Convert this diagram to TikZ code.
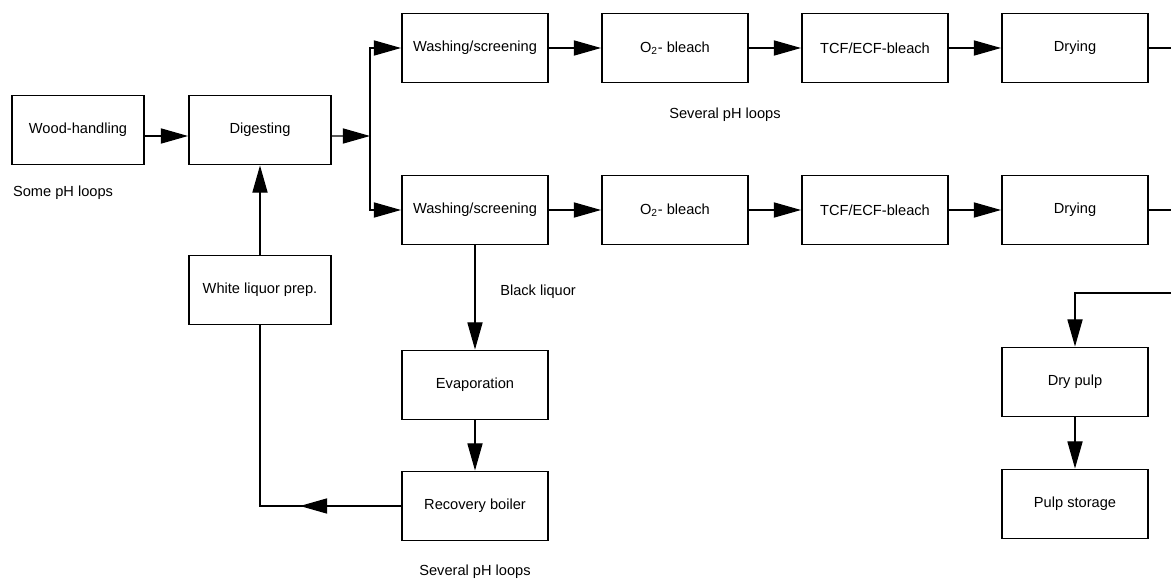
\documentclass[tikz,border=0pt]{standalone}
\usepackage{fontspec}
\setmainfont{Liberation Sans}
\usetikzlibrary{arrows.meta,calc}

\begin{document}
\begin{tikzpicture}[->,>={Triangle[length=0.68cm,width=0.38cm]},line width=0.8pt,
  node distance=5cm,font=\fontsize{10.4}{12}\selectfont]
  \tikzstyle{block}=[draw,line width=1.4pt,minimum width=3.65cm,minimum height=1.725cm]
  \useasboundingbox (0,0) rectangle (29.275,-14.5);

  \node[block,minimum width=3.55cm] (Dig)   at (6.5,-3.25)                     {Digesting};
  \node[block,minimum width=3.3cm]  (Wood)  [left of=Dig,node distance=4.55cm]  {Wood-handling};
  \node[block,minimum width=3.55cm] (WL)    [below of=Dig,node distance=4cm]    {White liquor prep.};

  \node[block] (Wash1) at (11.875,-1.2)                             {Washing/screening};
  \node[block] (Oxy1)  [right of=Wash1]                              {O\textsubscript{2}- bleach};
  \node[block] (Tcf1)  [right of=Oxy1]                               {TCF/ECF-bleach};
  \node[block] (Dry1)  [right of=Tcf1]                               {Drying};

  \node[block] (Wash2) [below of=Wash1,node distance=4.05cm]         {Washing/screening};
  \node[block] (Oxy2)  [right of=Wash2]                              {O\textsubscript{2}- bleach};
  \node[block] (Tcf2)  [right of=Oxy2]                               {TCF/ECF-bleach};
  \node[block] (Dry2)  [right of=Tcf2]                               {Drying};

  \node[block] (Evap)  [below of=Wash2,node distance=4.375cm]        {Evaporation};
  \node[block] (Boil)  [below of=Evap,node distance=3.025cm]         {Recovery boiler};
  \node[block] (DryP)  [below of=Dry2,node distance=4.3cm]           {Dry pulp};
  \node[block] (Store) [below of=DryP,node distance=3.05cm]          {Pulp storage};

  \node (some)  at (1.575,-4.825)              {Some pH loops};
  \node (sev1)  at (18.125,-2.875)             {Several pH loops};
  \node (black) [anchor=west] at (12.375,-7.3) {Black liquor};
  \node (sev2)  at (11.875,-14.3)              {Several pH loops};

  \coordinate (split) at (9.25,-3.4);
  \coordinate (rim)   at (29.275,0);
  \coordinate (feed)  at (29.275,-7.325);

  \draw ([yshift=-0.15cm]Wood.east) -- ([yshift=-0.15cm]Dig.west);
  \draw ([yshift=-0.15cm]Dig.east) -- (split);
  \draw (split) |- (Wash1.west);
  \draw (split) |- (Wash2.west);

  \path (Wash1) edge (Oxy1)
        (Oxy1)  edge (Tcf1)
        (Tcf1)  edge (Dry1)
        (Wash2) edge (Oxy2)
        (Oxy2)  edge (Tcf2)
        (Tcf2)  edge (Dry2)
        (Wash2) edge (Evap)
        (Evap)  edge (Boil)
        (WL)    edge (Dig)
        (DryP)  edge (Store);

  \draw[-] (Dry1.east) -- (Dry1.east -| rim);
  \draw[-] (Dry2.east) -- (Dry2.east -| rim);
  \draw (feed) -| (DryP.north);

  \draw[-] (Boil.west) -| (WL.south);
  \draw (Boil.west) -- ($(Boil.west -| WL.south)+(1.0,0)$);
\end{tikzpicture}
\end{document}
